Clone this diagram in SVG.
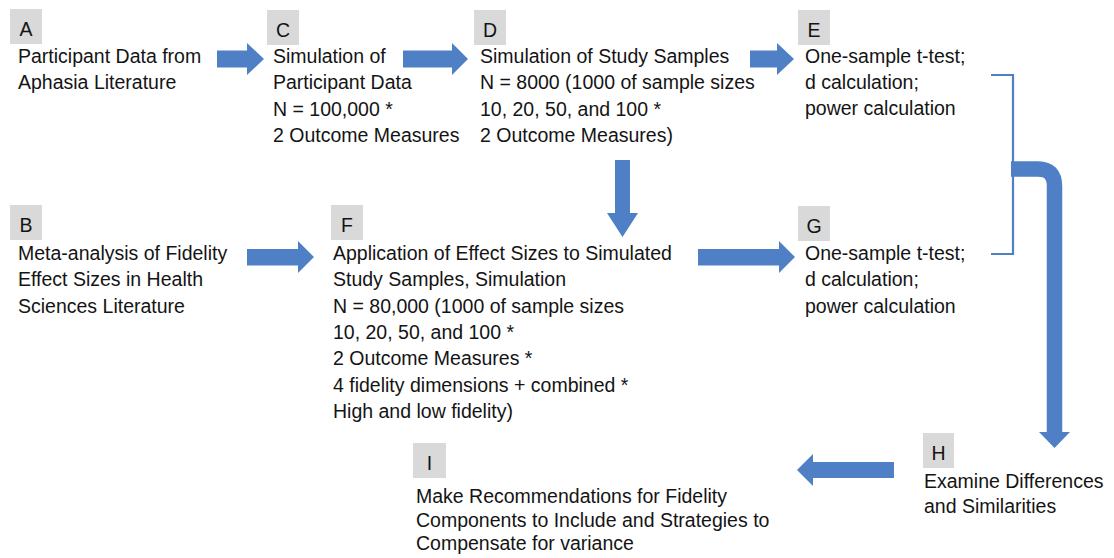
<svg xmlns="http://www.w3.org/2000/svg" width="1114" height="558" viewBox="0 0 1114 558">
<style>
  .t { font-family: "Liberation Sans", Arial, sans-serif; font-size: 19.5px; fill: #141414; }
  .lb { fill: #d9d9d9; }
  .lt { font-family: "Liberation Sans", Arial, sans-serif; font-size: 19.5px; fill: #141414; text-anchor: middle; }
  .ar { fill: #4f80c6; }
  .br { fill: none; stroke: #4f80c6; stroke-width: 2.2; }
</style>
<rect width="1114" height="558" fill="#ffffff"/>

<g id="connectors">
  <!-- A -> C -->
  <polygon class="ar" points="217,50.5 247,50.5 247,43 264,59 247,75 247,67.5 217,67.5"/>
  <!-- C -> D -->
  <polygon class="ar" points="403,50.5 452,50.5 452,43 468,59 452,75 452,67.5 403,67.5"/>
  <!-- D -> E -->
  <polygon class="ar" points="750,50.5 777,50.5 777,43 794,59 777,75 777,67.5 750,67.5"/>
  <!-- D -> F (down) -->
  <polygon class="ar" points="615,160 630,160 630,213 638,213 622.5,237 607,213 615,213"/>
  <!-- B -> F -->
  <polygon class="ar" points="247,249 298,249 298,241 314,257 298,273 298,265.5 247,265.5"/>
  <!-- F -> G -->
  <polygon class="ar" points="698,249 779,249 779,241 795,257 779,273 779,265.5 698,265.5"/>
  <!-- bracket E/G -->
  <path class="br" d="M991,75 H1013 V254 H991"/>
  <!-- thick curved arrow to H -->
  <path d="M1011,169 H1038 Q1054.5,169 1054.5,186 V433" fill="none" stroke="#4f80c6" stroke-width="15.5"/>
  <polygon class="ar" points="1039,432 1070,432 1054.5,448"/>
  <!-- H -> I -->
  <polygon class="ar" points="894,462 813,462 813,454 797,470 813,486 813,478 894,478"/>
</g>

<g id="node-A">
  <rect class="lb" x="10" y="9" width="32" height="35"/>
  <text class="lt" x="26" y="36">A</text>
  <text class="t" x="18" y="63">Participant Data from</text>
  <text class="t" x="18" y="89">Aphasia Literature</text>
</g>

<g id="node-C">
  <rect class="lb" x="267" y="10" width="32" height="35"/>
  <text class="lt" x="283" y="37">C</text>
  <text class="t" x="273" y="63">Simulation of</text>
  <text class="t" x="273" y="89">Participant Data</text>
  <text class="t" x="273" y="116">N = 100,000 *</text>
  <text class="t" x="273" y="142">2 Outcome Measures</text>
</g>

<g id="node-D">
  <rect class="lb" x="474" y="10" width="32" height="35"/>
  <text class="lt" x="490" y="37">D</text>
  <text class="t" x="480" y="63">Simulation of Study Samples</text>
  <text class="t" x="480" y="89">N = 8000 (1000 of sample sizes</text>
  <text class="t" x="480" y="116">10, 20, 50, and 100 *</text>
  <text class="t" x="480" y="142">2 Outcome Measures)</text>
</g>

<g id="node-E">
  <rect class="lb" x="798" y="10" width="32" height="35"/>
  <text class="lt" x="814" y="37">E</text>
  <text class="t" x="805" y="63">One-sample t-test;</text>
  <text class="t" x="805" y="89">d calculation;</text>
  <text class="t" x="805" y="115">power calculation</text>
</g>

<g id="node-B">
  <rect class="lb" x="10" y="205" width="32" height="35"/>
  <text class="lt" x="26" y="232">B</text>
  <text class="t" x="18" y="260">Meta-analysis of Fidelity</text>
  <text class="t" x="18" y="286">Effect Sizes in Health</text>
  <text class="t" x="18" y="313">Sciences Literature</text>
</g>

<g id="node-F">
  <rect class="lb" x="331" y="205" width="32" height="35"/>
  <text class="lt" x="347" y="232">F</text>
  <text class="t" x="333" y="260">Application of Effect Sizes to Simulated</text>
  <text class="t" x="333" y="286">Study Samples, Simulation</text>
  <text class="t" x="333" y="313">N = 80,000 (1000 of sample sizes</text>
  <text class="t" x="333" y="339">10, 20, 50, and 100 *</text>
  <text class="t" x="333" y="365">2 Outcome Measures *</text>
  <text class="t" x="333" y="392">4 fidelity dimensions + combined *</text>
  <text class="t" x="333" y="418">High and low fidelity)</text>
</g>

<g id="node-G">
  <rect class="lb" x="798" y="206" width="32" height="35"/>
  <text class="lt" x="814" y="233">G</text>
  <text class="t" x="805" y="260">One-sample t-test;</text>
  <text class="t" x="805" y="286">d calculation;</text>
  <text class="t" x="805" y="313">power calculation</text>
</g>

<g id="node-H">
  <rect class="lb" x="923" y="433" width="31" height="35"/>
  <text class="lt" x="938.5" y="460">H</text>
  <text class="t" x="924" y="488">Examine Differences</text>
  <text class="t" x="924" y="513">and Similarities</text>
</g>

<g id="node-I">
  <rect class="lb" x="413" y="443" width="33" height="35"/>
  <text class="lt" x="429.5" y="470">I</text>
  <text class="t" x="416" y="503">Make Recommendations for Fidelity</text>
  <text class="t" x="416" y="527">Components to Include and Strategies to</text>
  <text class="t" x="416" y="550">Compensate for variance</text>
</g>
</svg>
